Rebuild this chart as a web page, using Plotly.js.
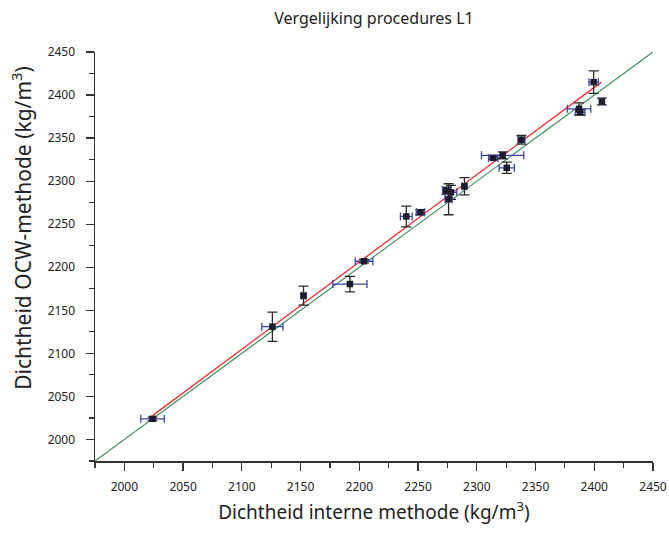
<!DOCTYPE html>
<html>
<head>
<meta charset="utf-8">
<script src="https://cdn.plot.ly/plotly-3.0.1.min.js"></script>
<style>html,body{margin:0;padding:0;background:#fff}#chart{width:669px;height:533px}</style>
</head>
<body>
<div id="chart"></div>
<script>
// Data: density by internal method (x) vs OCW method (y)
const xInterne = [2024, 2126, 2152.5, 2192, 2204, 2240, 2252, 2274, 2278, 2276, 2289.5, 2314, 2322, 2325.5, 2338, 2387, 2388, 2399.5, 2406.5];
const yOCW     = [2024, 2131, 2167, 2180.5, 2207, 2259, 2264, 2289, 2287, 2279, 2294, 2327, 2330, 2315.5, 2348, 2384, 2380, 2415, 2392.5];
const xErr     = [10, 9, 2, 14.5, 7.5, 5, 3.5, 3, 5, 3, 2, 4, 18, 6.5, 3, 10, 4, 4, 2];
const yErr     = [2, 17, 11, 9, 2, 12, 3, 4, 8, 18, 10, 2, 4, 6.5, 5, 7, 3, 13, 4];
// Regression line (red) and identity line (green)
const fitX = [2024, 2406];
const fitY = [2027.7, 2415];
const idX = [1975, 2450];
const idY = [1975, 2450];

const font = '"Noto Sans", "Open Sans", sans-serif';

const traces = [
  {x: idX, y: idY, mode: 'lines', line: {color: '#3f8a5e', width: 1.1}, hoverinfo: 'skip', showlegend: false},
  {x: fitX, y: fitY, mode: 'lines', line: {color: '#ec2a2e', width: 1.3}, hoverinfo: 'skip', showlegend: false},
  {
    x: xInterne, y: yOCW, mode: 'markers', type: 'scatter', showlegend: false,
    marker: {symbol: 'square', size: 6.5, color: '#1c1c2c', line: {width: 0}},
    error_x: {type: 'data', array: xErr, visible: true, color: '#3b44a8', thickness: 1.3, width: 4},
    error_y: {type: 'data', array: yErr, visible: true, color: '#2a2a2a', thickness: 1.3, width: 5}
  }
];

const axisCommon = {
  range: [1975, 2450],
  dtick: 50,
  tick0: 2000,
  ticks: 'outside',
  ticklen: 8,
  tickwidth: 1.3,
  tickcolor: '#333',
  showline: true,
  linecolor: '#333',
  linewidth: 1.5,
  showgrid: false,
  zeroline: false,
  tickfont: {family: font, size: 12, color: '#222'},
  minor: {ticks: 'outside', ticklen: 5, dtick: 25, tick0: 2000, tickcolor: '#333', tickwidth: 1.2, showgrid: false}
};

const layout = {
  width: 669, height: 533,
  margin: {l: 95, r: 16, t: 52, b: 72},
  paper_bgcolor: '#fff', plot_bgcolor: '#fff',
  title: {text: 'Vergelijking procedures L1', font: {family: font, size: 16, color: '#222'}, x: 0.5, xref: 'paper', y: 0.965, yref: 'container', yanchor: 'middle'},
  xaxis: Object.assign({}, axisCommon, {
    ticklabelstandoff: 6,
    title: {text: 'Dichtheid interne methode (kg/m<sup>3</sup>)', font: {family: font, size: 19, color: '#222'}, standoff: 12}
  }),
  yaxis: Object.assign({}, axisCommon, {ticklabelstandoff: 8}),
  annotations: [{
    text: 'Dichtheid OCW-methode (kg/m<sup>3</sup>)',
    xref: 'paper', yref: 'paper', x: -0.131, y: 0.57,
    xanchor: 'center', yanchor: 'middle', textangle: -90, showarrow: false,
    font: {family: font, size: 21, color: '#222'}
  }]
};

Plotly.newPlot('chart', traces, layout, {displayModeBar: false, staticPlot: true});
</script>
</body>
</html>
